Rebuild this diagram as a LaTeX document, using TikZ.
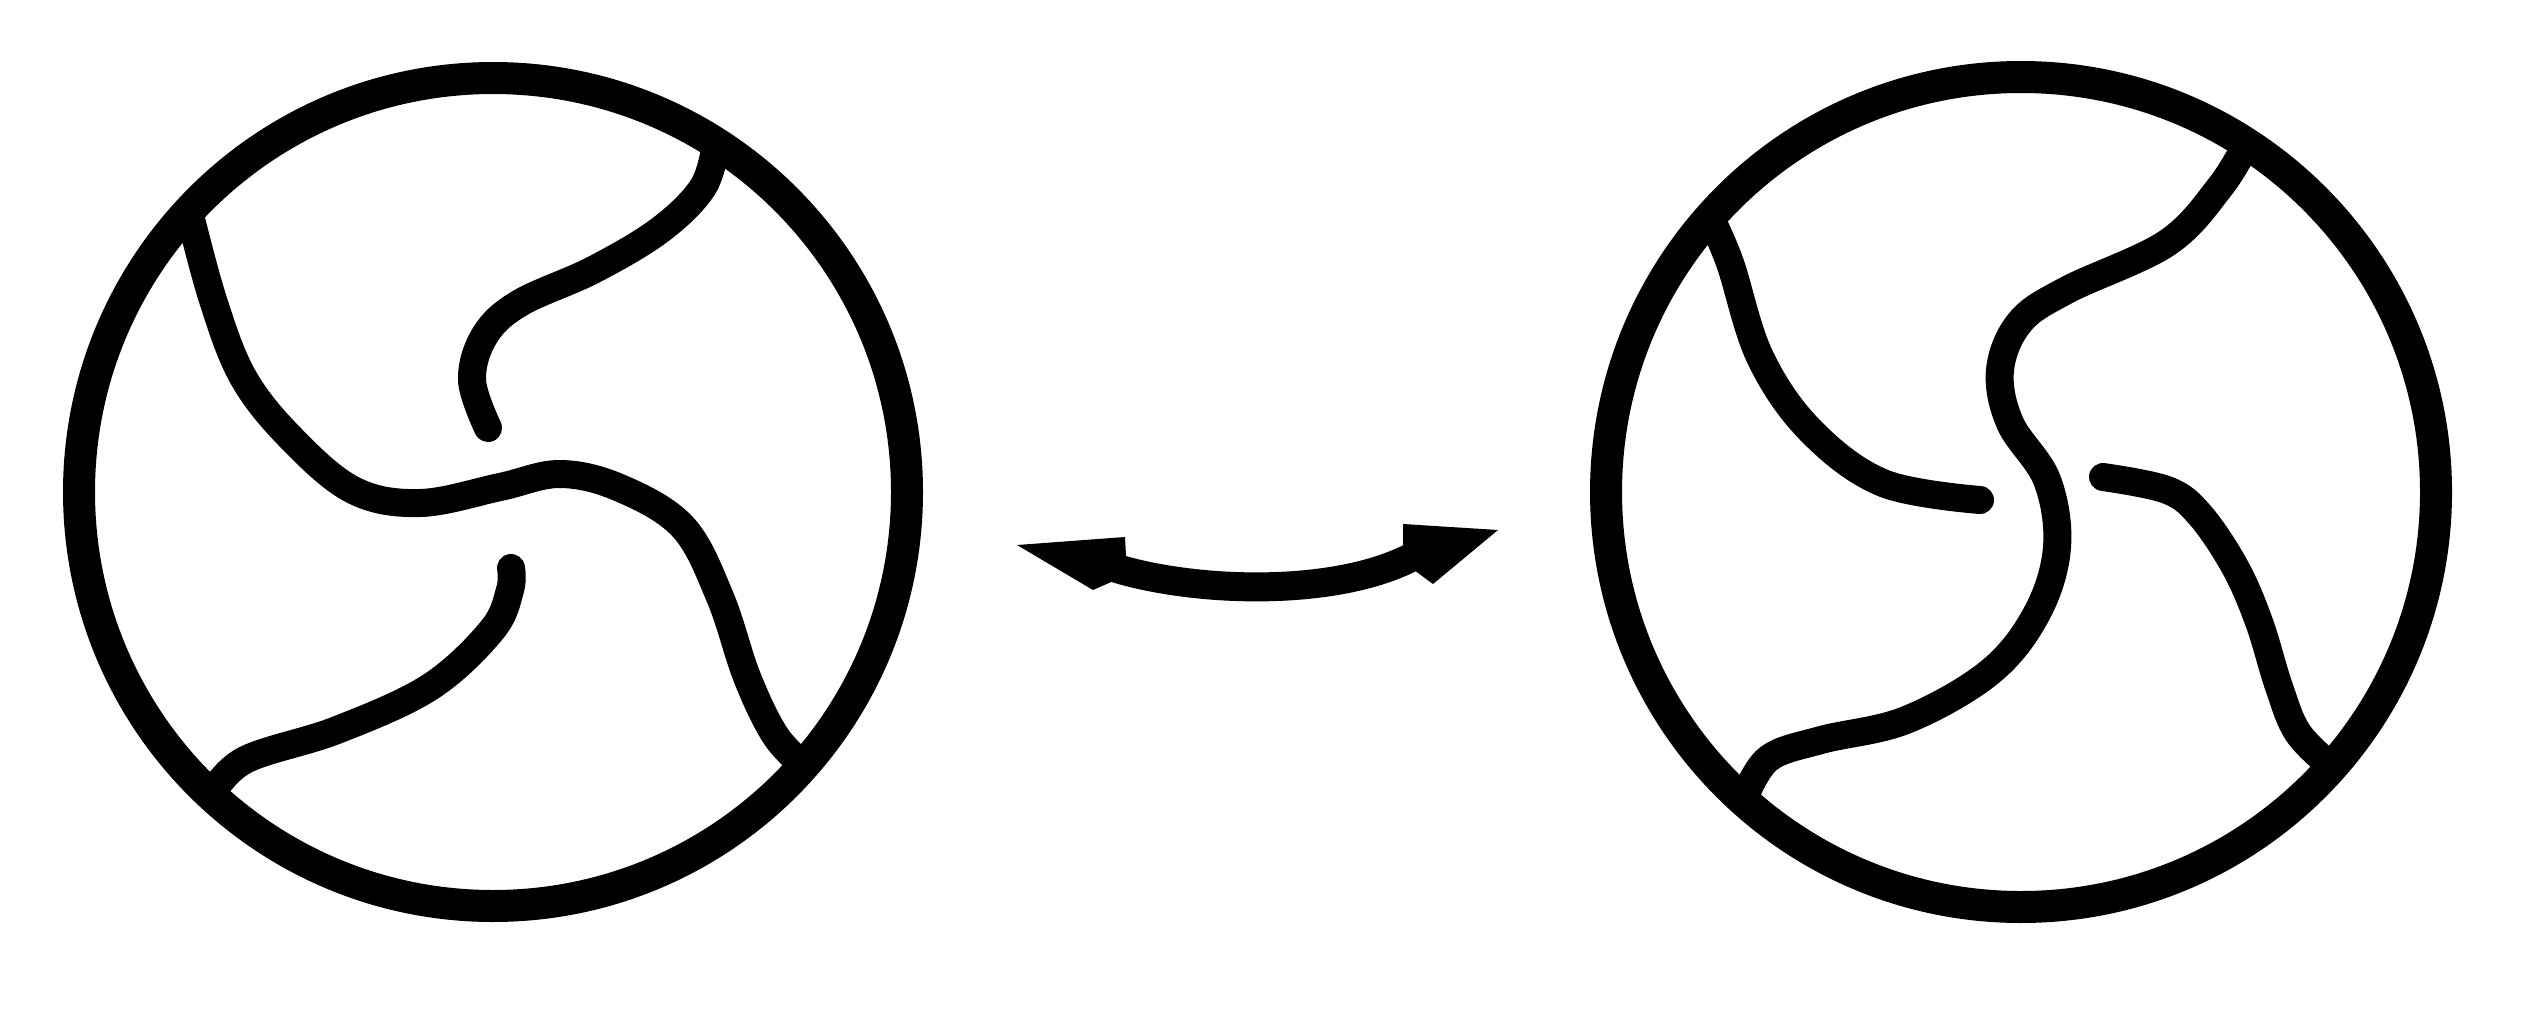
\documentclass[tikz,border=0pt]{standalone}
\usetikzlibrary{calc}

\begin{document}
\begin{tikzpicture}[x=0.1mm,y=-0.1mm,
    rim/.style={line width=3.2mm},
    ink/.style={line width=2.8mm,line cap=round,line join=round},
    wiggle/.style={ink,smooth,tension=0.6}]
    \useasboundingbox (0,0) rectangle (2524,1015);
    \coordinate (cL) at (493,492);
    \coordinate (cR) at (2021,492);
    % left disc
    \draw[rim] (cL) circle [radius=41.4mm];
    \draw[wiggle] plot coordinates {(716,143) (703,187) (660,230) (593,270) (520,303) (485,335) (472,380) (488,428)};
    \draw[wiggle] plot coordinates {(189,211) (213,300) (243,377) (290,437) (353,490) (420,503) (500,487) (560,474) (620,488) (683,527) (720,597) (747,677) (775,735) (804,766)};
    \draw[wiggle] plot coordinates {(211,795) (245,760) (337,730) (430,687) (492,630) (510,590) (511,568)};
    % arrow between the discs
    \draw[line width=2.9mm] (1112,567) .. controls (1190,592) and (1330,598) .. (1410,558);
    \fill (1017,545) -- (1125,537) -- (1127,575) -- (1093,590) -- cycle;
    \fill (1498,530) -- (1403,524) -- (1403,562) -- (1433,584) -- cycle;
    % right disc
    \draw[rim] (cR) circle [radius=41.5mm];
    \draw[wiggle] plot coordinates {(1710,217) (1730,263) (1760,357) (1810,430) (1883,483) (1980,500)};
    \draw[wiggle] plot coordinates {(2247,143) (2220,187) (2167,243) (2067,290) (2020,322) (2000,370) (2010,423) (2047,480) (2057,547) (2037,613) (1990,672) (1906,720) (1821,740) (1768,759) (1743,801)};
    \draw[wiggle] plot coordinates {(2332,767) (2298,733) (2279,687) (2259,622) (2235,567) (2200,515) (2167,490) (2103,477)};
\end{tikzpicture}
\end{document}
